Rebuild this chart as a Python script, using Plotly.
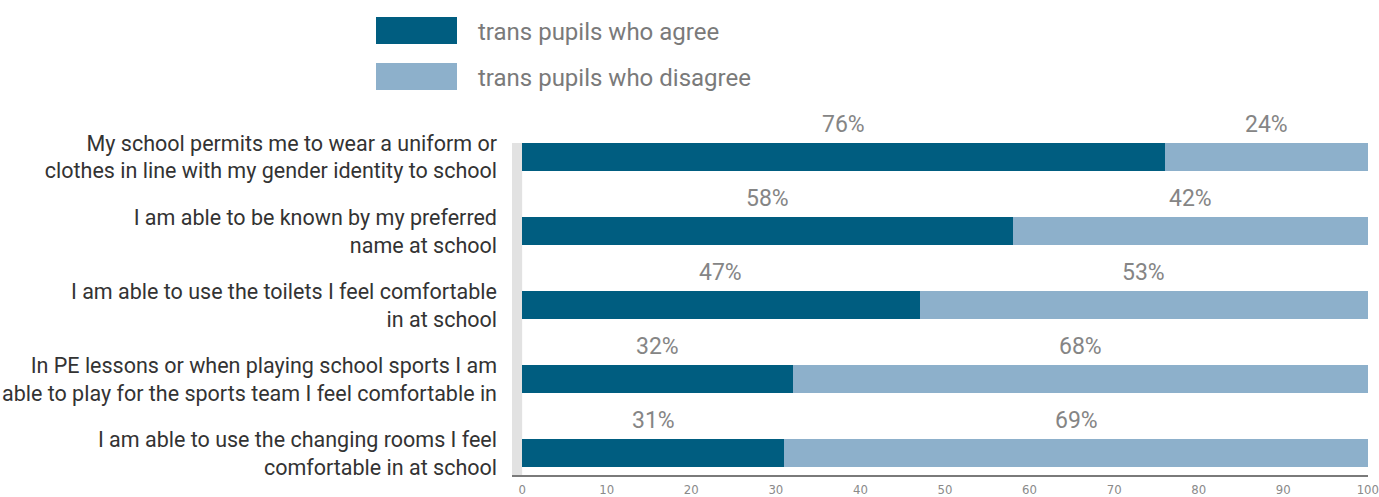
import plotly.graph_objects as go

# Survey statements (y categories, top to bottom)
statements = [
    "My school permits me to wear a uniform or<br>clothes in line with my gender identity to school",
    "I am able to be known by my preferred<br>name at school",
    "I am able to use the toilets I feel comfortable<br>in at school",
    "In PE lessons or when playing school sports I am<br>able to play for the sports team I feel comfortable in",
    "I am able to use the changing rooms I feel<br>comfortable in at school",
]
agree = [76, 58, 47, 32, 31]
disagree = [24, 42, 53, 68, 69]
series_names = ["trans pupils who agree", "trans pupils who disagree"]
x_ticks = [0, 10, 20, 30, 40, 50, 60, 70, 80, 90, 100]

AGREE_COLOR = "#005d80"
DISAGREE_COLOR = "#8db0cb"
LABEL_FONT = "Roboto"

W, H = 1379, 497
M_L, M_R, M_T, M_B = 512, 11, 120, 22
PW, PH = W - M_L - M_R, H - M_T - M_B


def px_x(x):
    return (x - M_L) / PW


def px_y(y):
    return (H - M_B - y) / PH


fig = go.Figure()
fig.add_trace(go.Bar(
    y=statements, x=agree, orientation="h", name=series_names[0],
    marker=dict(color=AGREE_COLOR, line=dict(width=0)), width=0.38,
    showlegend=False, hoverinfo="x",
))
fig.add_trace(go.Bar(
    y=statements, x=disagree, orientation="h", name=series_names[1],
    marker=dict(color=DISAGREE_COLOR, line=dict(width=0)), width=0.38,
    showlegend=False, hoverinfo="x",
))

# Percentage labels above each segment
for s, a, d in zip(statements, agree, disagree):
    for xc, v in ((a / 2, a), (a + d / 2, d)):
        fig.add_annotation(
            x=xc, y=s, text=f"{v}%", showarrow=False, yshift=33,
            font=dict(family=LABEL_FONT, size=23, color="#858585"),
        )

# Grey band along the zero line
fig.add_shape(type="rect", xref="x", yref="y", x0=-1.2, x1=0, y0=-0.19, y1=4.297,
              fillcolor="#e2e2e2", line=dict(width=0), layer="below")

# Legend drawn as swatches with text
legend_rows = [(series_names[0], AGREE_COLOR, 17, 44), (series_names[1], DISAGREE_COLOR, 63, 90)]
for name, color, y0, y1 in legend_rows:
    fig.add_shape(type="rect", xref="paper", yref="paper",
                  x0=px_x(376), x1=px_x(457), y0=px_y(y1), y1=px_y(y0),
                  fillcolor=color, line=dict(width=0))
    fig.add_annotation(xref="paper", yref="paper", x=px_x(476), y=px_y((y0 + y1) / 2),
                       xanchor="left", yanchor="middle", text=name, showarrow=False,
                       yshift=-2,
                       font=dict(family=LABEL_FONT, size=24, color="#7a7a7a"))

fig.update_layout(
    barmode="stack",
    width=W, height=H,
    margin=dict(l=M_L, r=M_R, t=M_T, b=M_B, pad=0, autoexpand=False),
    paper_bgcolor="white", plot_bgcolor="white",
    showlegend=False,
    xaxis=dict(
        range=[-1.2, 100.02], tickvals=x_ticks, showgrid=False, zeroline=False,
        showline=True, linecolor="#7a7a7a", linewidth=2, ticks="",
        ticklabelstandoff=1, ticklabeloverflow="allow", automargin=False,
        tickfont=dict(family="DejaVu Sans Condensed, Liberation Sans Narrow", size=13, color="#8a8a8a"),
        fixedrange=True,
    ),
    yaxis=dict(
        categoryorder="array", categoryarray=statements,
        range=[4.297, -0.5], showgrid=False, zeroline=False, showline=False,
        ticks="", ticklabelstandoff=14, automargin=False,
        tickfont=dict(family=LABEL_FONT, size=21.5, color="#333333"),
        fixedrange=True,
    ),
)

fig.write_html("out.html")
